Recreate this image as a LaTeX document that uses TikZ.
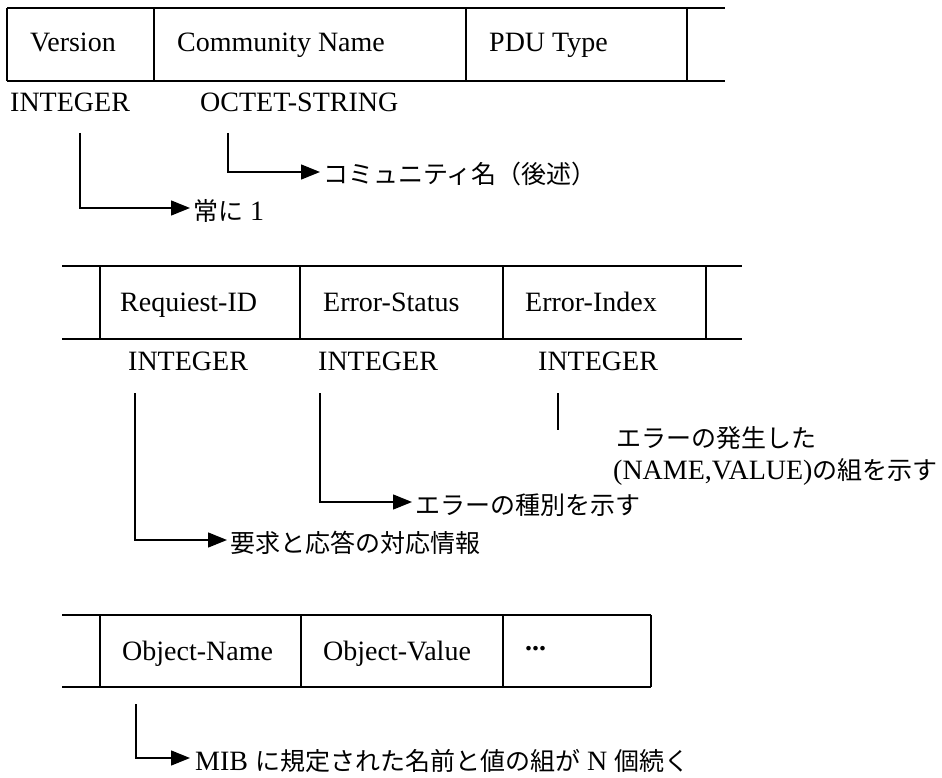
\documentclass[tikz,border=0pt]{standalone}
\usepackage{fontspec}
\setmainfont{Liberation Serif}
\newfontfamily\jp{Noto Sans CJK JP}
\usetikzlibrary{arrows.meta}
\newcommand\ja[1]{{\jp\fontsize{25}{30}\selectfont #1}}

\begin{document}
\begin{tikzpicture}[x=1pt,y=-1pt,
  rule/.style={line width=1.8pt},
  conn/.style={line width=1.4pt},
  arrowconn/.style={conn,-{Triangle[length=19pt,width=15pt]}},
  cell/.style={anchor=base west,inner sep=0pt,font=\fontsize{28}{32}\selectfont},
  note/.style={anchor=base west,inner sep=0pt,font=\fontsize{28}{32}\selectfont},
]
\useasboundingbox (0,0) rectangle (942,778);

% ---- message header: Version / Community Name / PDU Type
\draw[rule] (7,8) -- (725,8) (7,81) -- (725,81);
\foreach \x in {7,154,466,687} \draw[rule] (\x,8) -- (\x,81);
\node[cell] (ver)   at (30,52)  {Version};
\node[cell] (cname) at (177,52) {Community Name};
\node[cell] (pdu)   at (489,52) {PDU Type};
\node[cell] (tint)  at (10,112) {INTEGER};
\node[cell] (toct)  at (200,112) {OCTET-STRING};

\coordinate (vA) at (80,133);
\node[note] (lblA) at (193,220) {\ja{常に} 1};
\draw[arrowconn] (vA) |- ([xshift=-3pt,yshift=12pt]lblA.base west);

\coordinate (vB) at (228,133);
\node[note] (lblB) at (323,184) {\ja{コミュニティ名（後述）}};
\draw[arrowconn] (vB) |- ([xshift=-3pt,yshift=12pt]lblB.base west);

% ---- PDU: Request-ID / Error-Status / Error-Index
\draw[rule] (62,266) -- (742,266) (62,339) -- (742,339);
\foreach \x in {100,300,503,706} \draw[rule] (\x,266) -- (\x,339);
\node[cell] (rid)  at (120,311) {Requiest-ID};
\node[cell] (est)  at (323,311) {Error-Status};
\node[cell] (eidx) at (525,311) {Error-Index};
\node[cell] (int1) at (128,370) {INTEGER};
\node[cell] (int2) at (318,370) {INTEGER};
\node[cell] (int3) at (538,370) {INTEGER};

\coordinate (vC) at (135,393);
\node[note] (lblC) at (230,552) {\ja{要求と応答の対応情報}};
\draw[arrowconn] (vC) |- ([xshift=-3pt,yshift=12pt]lblC.base west);

\coordinate (vD) at (320,393);
\node[note] (lblD) at (415,514) {\ja{エラーの種別を示す}};
\draw[arrowconn] (vD) |- ([xshift=-3pt,yshift=12pt]lblD.base west);

\coordinate (vE) at (558,393);
\coordinate (eE) at (558,430);
\draw[conn] (vE) -- (eE);
\node[note] (lblE1) at (616,447) {\ja{エラーの発生した}};
\node[note] (lblE2) at (613,479) {(NAME,VALUE)\ja{の組を示す}};

% ---- variable bindings: Object-Name / Object-Value / ...
\draw[rule] (62,615) -- (651,615) (62,687) -- (651,687);
\foreach \x in {100,301,503,651} \draw[rule] (\x,615) -- (\x,687);
\node[cell] (oname) at (122,660) {Object-Name};
\node[cell] (oval)  at (323,660) {Object-Value};
\node[cell] (more)  at (525,660) {\raisebox{10pt}{\bfseries...}};

\coordinate (vF) at (136,704);
\node[note] (lblF) at (195,770) {MIB \ja{に規定された名前と値の組が} N \ja{個続く}};
\draw[arrowconn] (vF) |- ([xshift=-5pt,yshift=12pt]lblF.base west);
\end{tikzpicture}
\end{document}
